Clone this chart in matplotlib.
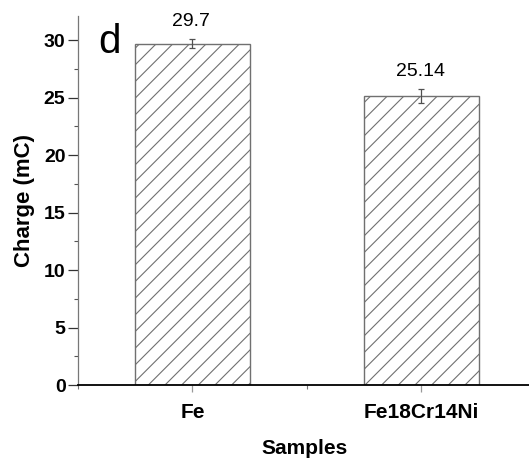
import matplotlib.pyplot as plt
from matplotlib.ticker import MultipleLocator, FixedLocator

# data
samples = ["Fe", "Fe18Cr14Ni"]
charge = [29.7, 25.14]
charge_err = [0.4, 0.65]
labels = ["29.7", "25.14"]

plt.rcParams['font.family'] = ['Liberation Sans', 'DejaVu Sans']
plt.rcParams['hatch.linewidth'] = 0.8

fig = plt.figure(figsize=(5.29, 4.61), dpi=100)
ax = fig.add_axes([78 / 529, 1 - 385 / 461, 451 / 529, 369 / 461])

x = [1, 2]
ax.bar(x, charge, width=0.5, color='white', edgecolor='#707070',
       hatch='//', linewidth=1.0, zorder=2)
ax.errorbar(x, charge, yerr=charge_err, fmt='none', ecolor='#505050',
            elinewidth=0.9, capsize=2.5, capthick=0.9, zorder=3)

for xi, v, e, lab in zip(x, charge, charge_err, labels):
    ax.annotate(lab, (xi, v + e), xytext=(-1, 9), textcoords='offset points',
                ha='center', va='baseline', fontsize=14)

ax.set_xlim(0.5, 2.47)
ax.set_ylim(0, 32.1)
ax.set_xticks(x)
ax.set_xticklabels(samples, fontsize=15, fontweight='bold')
ax.xaxis.set_minor_locator(FixedLocator([0.5, 1.5, 2.5]))
ax.yaxis.set_major_locator(MultipleLocator(5))
ax.yaxis.set_minor_locator(MultipleLocator(2.5))
for lab in ax.get_yticklabels():
    lab.set_fontsize(14)
    lab.set_fontweight('bold')

ax.tick_params(axis='y', which='major', direction='out', length=7, width=0.9,
               color='#333333', pad=2)
ax.tick_params(axis='y', which='minor', direction='out', length=3, width=0.8,
               color='#555555')
ax.tick_params(axis='x', which='major', direction='out', length=5, width=0.9,
               color='#999999', pad=8)
ax.tick_params(axis='x', which='minor', direction='out', length=3, width=0.8,
               color='#777777')

ax.spines['top'].set_visible(False)
ax.spines['right'].set_visible(False)
ax.spines['left'].set_color('#777777')
ax.spines['left'].set_linewidth(0.9)
ax.spines['bottom'].set_color('black')
ax.spines['bottom'].set_linewidth(1.3)

ax.set_ylabel('Charge (mC)', fontsize=16, fontweight='bold')
ax.yaxis.set_label_coords(-0.095, 0.5)
ax.set_xlabel('Samples', fontsize=15, fontweight='bold')
ax.xaxis.set_label_coords(0.503, -0.145)

fig.text(110 / 529, 1 - 53 / 461, 'd', fontsize=29, ha='center', va='baseline')

fig.savefig('out.png', dpi=100)
